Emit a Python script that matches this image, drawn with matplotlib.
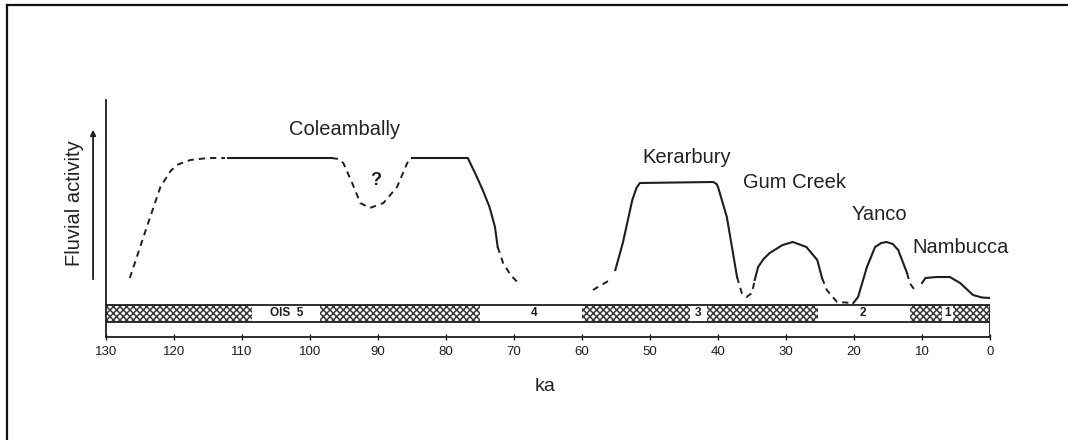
import matplotlib
matplotlib.use('Agg')
import matplotlib.pyplot as plt
from matplotlib.lines import Line2D

plt.rcParams['font.family'] = ['Liberation Sans', 'DejaVu Sans']
plt.rcParams['hatch.linewidth'] = 1.1

# fluvial activity curves (age in ka, relative activity), split into solid / dashed pieces
cole_dash1_ka = [126.5, 124, 122, 120.5, 119.6, 117.6, 115, 112.5]
cole_dash1_y = [2.7, 7.8, 11.8, 13.4, 14.0, 14.5, 14.7, 14.7]
cole_solid1_ka = [112, 96.8]
cole_solid1_y = [14.7, 14.7]
cole_dash2_ka = [96.8, 95.8, 95.1, 93.8, 92.6, 91.2, 89.2, 87.2, 85.7, 85]
cole_dash2_y = [14.7, 14.6, 14.2, 12.2, 10.2, 9.7, 10.2, 11.8, 14.2, 14.7]
cole_solid2_ka = [85, 76.8, 75.8, 74.6, 73.6, 72.8, 72.4]
cole_solid2_y = [14.7, 14.7, 13.3, 11.5, 9.8, 7.8, 5.8]
cole_dash3_ka = [72.4, 71.6, 70.5, 69.1]
cole_dash3_y = [5.8, 4.2, 3.0, 2.0]

kera_dash1_ka = [58.4, 55.9]
kera_dash1_y = [1.5, 2.5]
kera_solid_ka = [55.1, 54, 52.6, 52, 51.5, 40.7, 40.2, 40, 38.7, 37.2]
kera_solid_y = [3.5, 6.2, 10.5, 11.7, 12.2, 12.3, 12.1, 11.8, 8.8, 2.8]
kera_dash2_ka = [37.2, 36.5, 35.8, 35, 34.6]
kera_dash2_y = [2.8, 1.2, 0.8, 1.2, 2.5]

gum_solid_ka = [34.6, 34.1, 33.3, 32.4, 30.5, 29, 27, 25.4, 24.7]
gum_solid_y = [2.5, 3.8, 4.6, 5.2, 6.0, 6.3, 5.8, 4.5, 2.7]
gum_dash_ka = [24.7, 24, 22.5, 20.1]
gum_dash_y = [2.7, 1.5, 0.3, 0.2]

yanco_solid_ka = [20.1, 19.4, 18.1, 16.9, 16, 15.2, 14.3, 13.5, 12.2]
yanco_solid_y = [0.2, 0.8, 3.8, 5.8, 6.2, 6.3, 6.1, 5.5, 3.2]
yanco_dash_ka = [12.2, 11.8, 10.8]
yanco_dash_y = [3.2, 2.2, 1.2]

namb_solid_ka = [10, 9.5, 7.8, 5.9, 4.4, 2.5, 1.2, 0]
namb_solid_y = [2.2, 2.7, 2.8, 2.8, 2.2, 1.0, 0.75, 0.7]

# oxygen isotope stage bar
hatch_start = [130, 98.5, 60, 41.6, 11.8, 5.4]
hatch_end = [108.5, 75, 44.1, 25.3, 7.0, 0]
stage_labels = ['OIS  5', '4', '3', '2', '1']
stage_label_ka = [103.5, 67, 42.9, 18.7, 6.2]

# river names
names = ['Coleambally', 'Kerarbury', 'Gum Creek', 'Yanco', 'Nambucca']
name_ka = [94.85, 44.6, 28.8, 16.2, 4.4]
name_y = [17.0, 14.2, 11.7, 8.5, 5.2]

ticks = list(range(0, 140, 10))

fig = plt.figure(figsize=(10.68, 4.4), dpi=100)
ax = fig.add_axes([106 / 1068, 1 - 337 / 440, 884 / 1068, 237 / 440])
ax.set_xlim(130, 0)
ax.set_ylim(-3.2, 20.5)

lc = '#1e1e1e'
dash = dict(color=lc, lw=1.4, dashes=(3.2, 2.6))
solid = dict(color=lc, lw=1.5)

ax.plot(cole_dash1_ka, cole_dash1_y, **dash)
ax.plot(cole_solid1_ka, cole_solid1_y, **solid)
ax.plot(cole_dash2_ka, cole_dash2_y, **dash)
ax.plot(cole_solid2_ka, cole_solid2_y, **solid)
ax.plot(cole_dash3_ka, cole_dash3_y, **dash)
ax.plot(kera_dash1_ka, kera_dash1_y, **dash)
ax.plot(kera_solid_ka, kera_solid_y, **solid)
ax.plot(kera_dash2_ka, kera_dash2_y, **dash)
ax.plot(gum_solid_ka, gum_solid_y, **solid)
ax.plot(gum_dash_ka, gum_dash_y, **dash)
ax.plot(yanco_solid_ka, yanco_solid_y, **solid)
ax.plot(yanco_dash_ka, yanco_dash_y, **dash)
ax.plot(namb_solid_ka, namb_solid_y, **solid)

# OIS bar
for s, e in zip(hatch_start, hatch_end):
    ax.bar((s + e) / 2, 1.7, width=s - e, bottom=-1.7, facecolor='white',
           edgecolor='#3a3a3a', hatch='xxxxx', lw=0)
ax.plot([130, 0], [0, 0], color=lc, lw=1.3)
ax.plot([130, 0], [-1.7, -1.7], color=lc, lw=1.3)
ax.plot([0, 0], [-3.2, 0], color=lc, lw=1.3)
for lab, k in zip(stage_labels, stage_label_ka):
    ax.text(k, -0.85, lab, ha='center', va='center', fontsize=8.5, fontweight='bold', color=lc)

for n, k, y in zip(names, name_ka, name_y):
    ax.text(k, y, n, ha='center', va='baseline', fontsize=14.5, color='#222222')
ax.text(90.4, 12.0, '?', ha='center', va='baseline', fontsize=13, fontweight='bold', color=lc)

# axes
for sp in ['top', 'right']:
    ax.spines[sp].set_visible(False)
ax.spines['left'].set_linewidth(1.3)
ax.spines['bottom'].set_linewidth(1.3)
ax.spines['left'].set_color(lc)
ax.spines['bottom'].set_color(lc)
ax.set_yticks([])
ax.set_xticks(ticks)
ax.tick_params(axis='x', direction='inout', length=5, width=1, colors=lc, labelsize=9.5, pad=4)

ax.text(65.4, -8.6, 'ka', ha='center', va='baseline', fontsize=14, color='#222222', clip_on=False)
ax.text(134.6, 10.2, 'Fluvial activity', rotation=90, ha='center', va='center',
        fontsize=14.5, color='#222222', clip_on=False)
ax.annotate('', xy=(131.9, 17.8), xytext=(131.9, 2.3), annotation_clip=False,
            arrowprops=dict(arrowstyle='-|>', lw=1.3, color=lc, mutation_scale=8))

# frame lines at top and left
fig.add_artist(Line2D([7 / 1068, 1], [1 - 5 / 440, 1 - 5 / 440], transform=fig.transFigure, color='#111111', lw=1.6))
fig.add_artist(Line2D([7 / 1068, 7 / 1068], [0, 1 - 5 / 440], transform=fig.transFigure, color='#111111', lw=1.6))

fig.savefig('out.png', dpi=100)
